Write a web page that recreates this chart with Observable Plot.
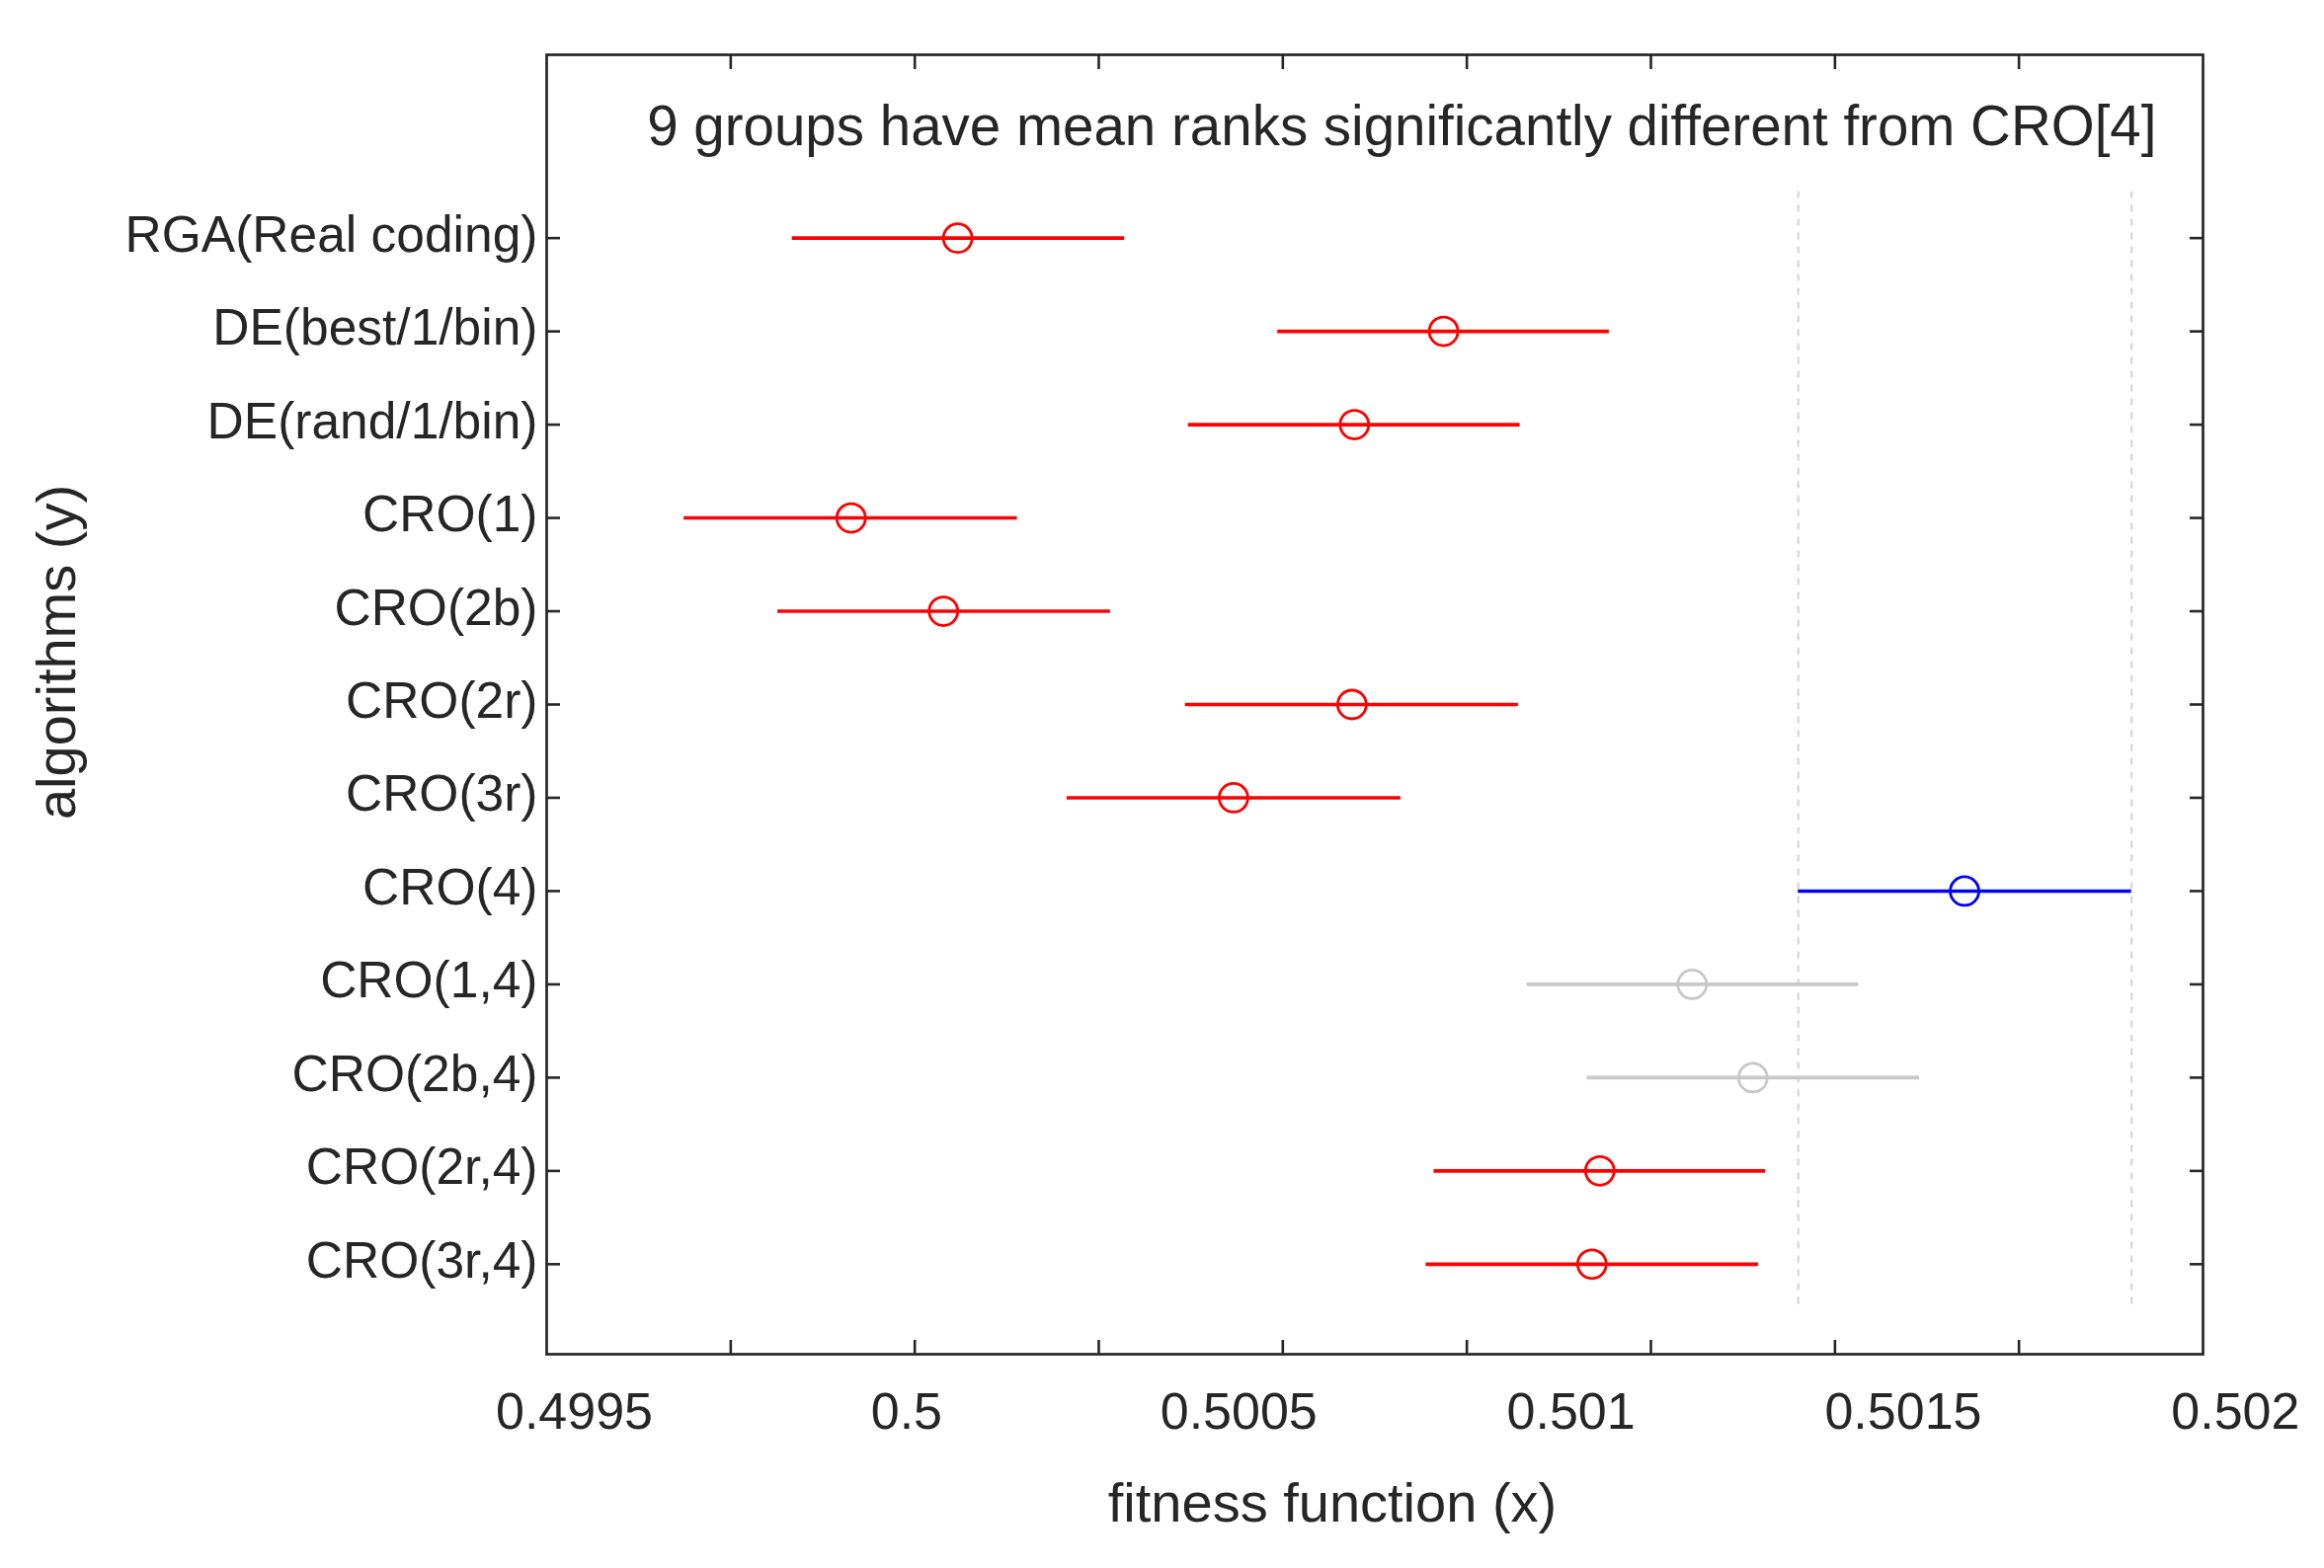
<!DOCTYPE html>
<html>
<head>
<meta charset="utf-8">
<script src="https://cdn.jsdelivr.net/npm/d3@7"></script>
<script src="https://cdn.jsdelivr.net/npm/@observablehq/plot@0.6"></script>
<style>
  html, body { margin: 0; padding: 0; background: #ffffff; }
  #chart { width: 2353px; height: 1588px; }
</style>
</head>
<body>
<div id="chart"></div>
<script>
// ---- data ----
const algorithms = [
  "RGA(Real coding)", "DE(best/1/bin)", "DE(rand/1/bin)", "CRO(1)", "CRO(2b)", "CRO(2r)",
  "CRO(3r)", "CRO(4)", "CRO(1,4)", "CRO(2b,4)", "CRO(2r,4)", "CRO(3r,4)"
];
const meanValue = [
  0.5000770, 0.5008082, 0.5006740, 0.4999166, 0.5000555, 0.5006704,
  0.5004921, 0.5015923, 0.5011824, 0.5012738, 0.5010434, 0.5010315
];
const lowerValue = [
  0.4998281, 0.5005587, 0.5004243, 0.4996652, 0.4998063, 0.5004197,
  0.5002415, 0.5013421, 0.5009341, 0.5010244, 0.5007939, 0.5007820
];
const upperValue = [
  0.5003284, 0.5010577, 0.5009234, 0.5001668, 0.5003069, 0.5009210,
  0.5007440, 0.5018437, 0.5014331, 0.5015245, 0.5012929, 0.5012822
];
const groupStatus = [
  "sig", "sig", "sig", "sig", "sig", "sig",
  "sig", "ref", "ns", "ns", "sig", "sig"
];
const xTickValues = [0.4995, 0.5, 0.5005, 0.501, 0.5015, 0.502];
const xTickLabels = ["0.4995", "0.5", "0.5005", "0.501", "0.5015", "0.502"];
const xTickMarks = [0.4997354, 0.5000124, 0.5002893, 0.5005663, 0.5008433, 0.5011203, 0.5013973, 0.5016742];
const xDomain = [0.4994584, 0.5019512];
const yDomain = [12.965, -0.965];
const annotation = "9 groups have mean ranks significantly different from CRO[4]";
const xTitle = "fitness function (x)";
const yTitle = "algorithms (y)";
const statusColor = { sig: "#ff0000", ref: "#0000ff", ns: "#c8c8c8" };

// ---- build table ----
const rows = algorithms.map((name, i) => ({
  name, row: i + 1, lo: lowerValue[i], mean: meanValue[i], hi: upperValue[i], status: groupStatus[i]
}));
const rowIndex = rows.map(d => d.row);
const refGroup = rows.find(d => d.status === "ref");
const refLines = [refGroup.lo, refGroup.hi].map(x => ({ x, y1: 0.5, y2: algorithms.length + 0.5 }));

const ink = "#262626";

const chart = Plot.plot({
  width: 2353,
  height: 1588,
  marginTop: 55,
  marginLeft: 553,
  marginRight: 123,
  marginBottom: 217,
  style: { fontFamily: "'Liberation Sans', Arial, Helvetica, sans-serif", background: "#ffffff", color: ink },
  x: { domain: xDomain },
  y: { domain: yDomain },
  color: { type: "identity" },
  marks: [
    Plot.ruleX(refLines, { x: "x", y1: "y1", y2: "y2", stroke: "#d6d6d6", strokeWidth: 2.2, strokeDasharray: "7,7" }),
    Plot.ruleY(rows, { y: "row", x1: "lo", x2: "hi", stroke: d => statusColor[d.status], strokeWidth: 3.6 }),
    Plot.dot(rows, { x: "mean", y: "row", r: 14.5, fill: "none", stroke: d => statusColor[d.status], strokeWidth: 2.8 }),
    Plot.frame({ stroke: ink, strokeWidth: 2.7 }),
    // tick labels
    Plot.axisX(xTickValues, {
      anchor: "bottom", tickSize: 0, tickPadding: 39, fontSize: 52, fill: ink, label: null,
      tickFormat: d => xTickLabels[xTickValues.indexOf(d)]
    }),
    Plot.axisY(rowIndex, {
      anchor: "left", tickSize: 0, tickPadding: 9, fontSize: 51.5, fill: ink, label: null, dy: -3,
      tickFormat: d => algorithms[d - 1]
    }),
    // inward tick marks
    Plot.axisX(xTickMarks, { anchor: "bottom", tickSize: -14, fill: "none", stroke: ink, strokeWidth: 2.6, label: null }),
    Plot.axisX(xTickMarks, { anchor: "top", tickSize: -14, fill: "none", stroke: ink, strokeWidth: 2.6, label: null }),
    Plot.axisY(rowIndex, { anchor: "left", tickSize: -14, fill: "none", stroke: ink, strokeWidth: 2.6, label: null }),
    Plot.axisY(rowIndex, { anchor: "right", tickSize: -14, fill: "none", stroke: ink, strokeWidth: 2.6, label: null }),
    // texts
    Plot.text([annotation], { frameAnchor: "top-right", textAnchor: "end", lineAnchor: "middle", dx: -47, dy: 73, fontSize: 56.5, fill: ink }),
    Plot.text([xTitle], { frameAnchor: "bottom", textAnchor: "middle", lineAnchor: "middle", dx: -43, dy: 152, fontSize: 56, fill: ink }),
    Plot.text([yTitle], { frameAnchor: "left", textAnchor: "middle", lineAnchor: "middle", rotate: -90, dx: -495, dy: -53, fontSize: 56, fill: ink })
  ]
});
document.getElementById("chart").appendChild(chart);
</script>
</body>
</html>
